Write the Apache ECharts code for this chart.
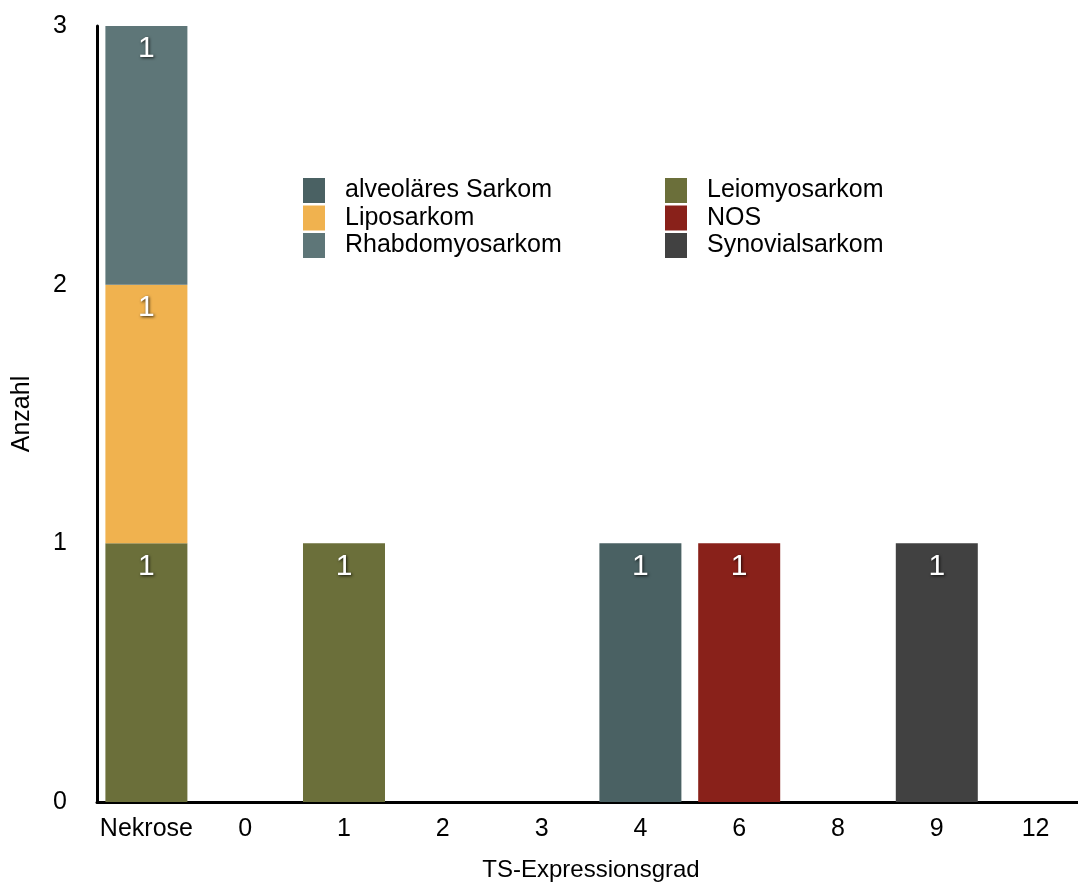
<!DOCTYPE html>
<html><head><meta charset="utf-8">
<script src="https://cdn.jsdelivr.net/npm/echarts@6/dist/echarts.min.js"></script>
<style>html,body{margin:0;padding:0;background:#fff}#c{width:1078px;height:884px}</style>
</head><body><div id="c"></div>
<script>
const categories = ['Nekrose','0','1','2','3','4','6','8','9','12'];
const yTicks = [0,1,2,3];
const alveolaer = [null,null,null,null,null,1,null,null,null,null];
const leiomyo = [1,null,1,null,null,null,null,null,null,null];
const lipo = [1,null,null,null,null,null,null,null,null,null];
const nos = [null,null,null,null,null,null,1,null,null,null];
const rhabdo = [1,null,null,null,null,null,null,null,null,null];
const synovial = [null,null,null,null,null,null,null,null,1,null];

const seriesDefs = [
  {name:'alveoläres Sarkom', data: alveolaer, color:'#4a6163'},
  {name:'Leiomyosarkom', data: leiomyo, color:'#6b6f3a'},
  {name:'Liposarkom', data: lipo, color:'#f0b24f'},
  {name:'NOS', data: nos, color:'#89211a'},
  {name:'Rhabdomyosarkom', data: rhabdo, color:'#5e7678'},
  {name:'Synovialsarkom', data: synovial, color:'#414141'}
];
const font = 'Liberation Sans, Arial, sans-serif';
const chart = echarts.init(document.getElementById('c'));
const legendCommon = {
  orient:'vertical', itemWidth:22, itemHeight:25, itemGap:2.5, icon:'rect', padding:0,
  textStyle:{fontFamily:font, fontSize:25, color:'#000', padding:[0,0,0,15]}
};
chart.setOption({
  animation:false,
  backgroundColor:'#fff',
  grid:{left:97, right:-7, top:26, bottom:82, containLabel:false, outerBoundsMode:'none'},
  legend:[
    Object.assign({left:303, top:178, data:['alveoläres Sarkom','Liposarkom','Rhabdomyosarkom']}, legendCommon),
    Object.assign({left:665, top:178, data:['Leiomyosarkom','NOS','Synovialsarkom']}, legendCommon)
  ],
  xAxis:{type:'category', data:categories,
    name:'TS-Expressionsgrad', nameLocation:'middle', nameGap:56,
    nameTextStyle:{fontFamily:font, fontSize:24, color:'#000'},
    axisLine:{lineStyle:{color:'#000', width:3}}, axisTick:{show:false},
    axisLabel:{fontFamily:font, fontSize:25, color:'#000', margin:15, interval:0}},
  yAxis:{type:'value', min:0, max:3, interval:1,
    name:'Anzahl', nameLocation:'middle', nameGap:62,
    nameTextStyle:{fontFamily:font, fontSize:25, color:'#000'},
    axisLine:{show:true, lineStyle:{color:'#000', width:3}}, axisTick:{show:false},
    splitLine:{show:false},
    axisLabel:{fontFamily:font, fontSize:25, color:'#000', margin:30}},
  series: seriesDefs.map(s=>({
    name:s.name, type:'bar', stack:'total', data:s.data, barCategoryGap:'17%',
    itemStyle:{color:s.color},
    label:{show:true, position:'insideTop', distance:8, fontFamily:font, fontSize:30, color:'#fff',
      textShadowColor:'rgba(0,0,0,0.8)', textShadowBlur:3, textShadowOffsetX:1, textShadowOffsetY:1}
  }))
});
</script></body></html>
